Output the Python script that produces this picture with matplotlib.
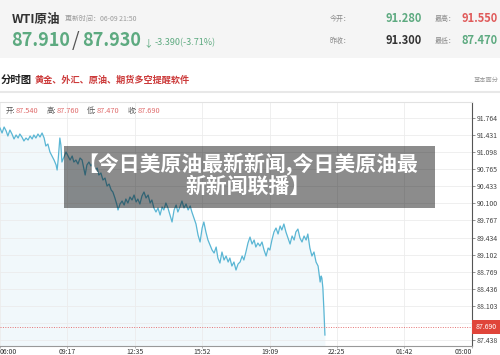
import matplotlib
matplotlib.use('Agg')
import matplotlib.pyplot as plt
from matplotlib.patches import Rectangle
from matplotlib.lines import Line2D

plt.rcParams['font.family'] = ['Noto Sans CJK SC', 'DejaVu Sans']

# ---- data ----
# minutes after 06:00
minutes = [
    0, 6, 12, 18, 23, 29, 35, 41, 47, 53,
    58, 64, 70, 76, 82, 88, 94, 99, 105, 111,
    117, 123, 129, 134, 140, 146, 152, 158, 164, 167,
    170, 175, 178, 181, 187, 193, 199, 205, 211, 216,
    222, 228, 234, 240, 246, 249, 254, 260, 266, 272,
    278, 284, 289, 295, 301, 307, 313, 319, 325, 330,
    336, 342, 345, 351, 357, 363, 368, 374, 380, 386,
    392, 398, 403, 409, 415, 421, 427, 433, 439, 444,
    450, 456, 462, 468, 474, 479, 485, 491, 497, 503,
    509, 515, 520, 526, 532, 538, 544, 550, 556, 561,
    567, 573, 579, 585, 591, 596, 602, 608, 614, 620,
    626, 632, 637, 643, 649, 655, 661, 667, 672, 678,
    684, 690, 696, 702, 708, 713, 719, 725, 731, 737,
    743, 748, 754, 760, 766, 772, 778, 784, 789, 795,
    801, 807, 813, 819, 824, 830, 836, 842, 848, 854,
    860, 865, 871, 877, 883, 889, 895, 900, 906, 912,
    918, 924, 930, 936, 939, 941, 944, 947, 950,
]
prices = [
    91.569, 91.472, 91.589, 91.511, 91.413, 91.530, 91.452, 91.355, 91.433, 91.374,
    91.452, 91.394, 91.316, 91.374, 91.335, 91.413, 91.355, 91.433, 91.374, 91.452,
    91.394, 91.472, 91.374, 91.218, 91.257, 91.101, 91.023, 90.945, 90.848, 90.750,
    90.945, 91.374, 91.238, 90.906, 91.004, 91.101, 91.023, 90.945, 91.023, 90.906,
    90.945, 90.867, 90.984, 90.945, 90.750, 90.653, 90.848, 90.906, 90.828, 90.887,
    90.750, 90.789, 90.653, 90.692, 90.555, 90.594, 90.438, 90.477, 90.361, 90.322,
    90.205, 90.068, 89.971, 90.088, 90.146, 90.068, 90.185, 90.107, 90.224, 90.166,
    90.263, 90.127, 90.185, 90.088, 90.244, 90.322, 90.205, 90.263, 90.107, 90.166,
    90.010, 89.932, 90.010, 89.873, 90.029, 89.971, 90.107, 90.010, 89.873, 89.737,
    89.971, 90.068, 89.932, 90.029, 90.146, 90.010, 90.088, 89.971, 90.049, 89.932,
    89.815, 89.698, 89.483, 89.347, 89.620, 89.737, 89.542, 89.386, 89.288, 89.191,
    89.132, 89.249, 89.035, 88.937, 89.152, 88.996, 89.074, 88.957, 89.035, 88.879,
    88.957, 88.801, 88.918, 88.957, 89.074, 88.996, 89.152, 89.327, 89.444, 89.308,
    89.386, 89.249, 89.327, 89.269, 89.347, 89.191, 89.074, 89.230, 89.191, 89.386,
    89.542, 89.620, 89.503, 89.659, 89.581, 89.698, 89.542, 89.425, 89.308, 89.464,
    89.386, 89.542, 89.600, 89.425, 89.347, 89.464, 89.386, 89.503, 89.230, 89.074,
    89.152, 88.957, 88.879, 88.567, 88.684, 88.645, 88.450, 88.021, 87.534,
]

y_ticks = [91.764, 91.431, 91.098, 90.765, 90.433, 90.100, 89.767,
           89.434, 89.102, 88.769, 88.436, 88.103, 87.771, 87.438]
x_ticks = [0, 197, 394, 591, 788, 985, 1182, 1379]
x_labels = ['06:00', '09:17', '12:35', '15:52', '19:09', '22:25', '01:42', '05:00']

bar_names = ['开:', '高:', '低:', '收:']
bar_values = [87.540, 87.760, 87.470, 87.690]
last_close = 87.690

quote_bid, quote_ask = 87.910, 87.930
change, change_pct = -3.390, -3.71
today_open, prev_close = 91.280, 91.300
day_high, day_low = 91.550, 87.470

title_lines = ['【今日美原油最新新闻,今日美原油最', '新新闻联播】']

GREEN = '#5daa80'
RED = '#e05a5a'
LINE = '#5ab6d4'

W, H = 500, 355


def fx(x):
    return x / W


def fy(y):
    return 1 - y / H


fig = plt.figure(figsize=(5, 3.55), dpi=100)
fig.patch.set_facecolor('white')

# quote header band
fig.add_artist(Rectangle((0, fy(58)), 1, 58 / H, transform=fig.transFigure,
                         facecolor='#f5f5f5', edgecolor='none', zorder=-1))
fig.text(fx(12), fy(19), 'WTI原油', fontsize=9, fontweight='bold', color='#333333', va='center')
fig.text(fx(65), fy(19), '更新时间：06-09 21:50', fontsize=5, color='#9a9a9a', va='center')
fig.text(fx(11), fy(41), f'{quote_bid:.3f}', fontsize=13, fontweight='bold', color=GREEN, va='center')
fig.text(fx(72), fy(41), '/', fontsize=14, color='#555555', va='center')
fig.text(fx(82), fy(41), f'{quote_ask:.3f}', fontsize=13, fontweight='bold', color=GREEN, va='center')
fig.text(fx(143), fy(43), '↓', fontsize=7, color=GREEN, va='center')
fig.text(fx(155), fy(43), f'{change:.3f}({change_pct:.2f}%)', fontsize=6.5, color=GREEN, va='center')

fig.text(fx(330), fy(19), '今开：', fontsize=5, color='#888888', va='center')
fig.text(fx(385), fy(18), f'{today_open:.3f}', fontsize=8, fontweight='bold', color=GREEN, va='center')
fig.text(fx(435), fy(19), '最高：', fontsize=5, color='#888888', va='center')
fig.text(fx(462), fy(18), f'{day_high:.3f}', fontsize=8, fontweight='bold', color=RED, va='center')
fig.text(fx(330), fy(41), '昨收：', fontsize=5, color='#888888', va='center')
fig.text(fx(385), fy(40), f'{prev_close:.3f}', fontsize=8, fontweight='bold', color='#333333', va='center')
fig.text(fx(435), fy(41), '最低：', fontsize=5, color='#888888', va='center')
fig.text(fx(462), fy(40), f'{day_low:.3f}', fontsize=8, fontweight='bold', color=GREEN, va='center')

# section title row
fig.text(fx(1), fy(80), '分时图', fontsize=7.5, fontweight='bold', color='#222222', va='center')
fig.text(fx(35), fy(80), '黄金、外汇、原油、期货多空提醒软件', fontsize=6.6,
         fontweight='bold', color='#cc3a3a', va='center')
fig.text(fx(474), fy(80), '基本面分', fontsize=4.5, color='#999999', va='center')
fig.add_artist(Line2D([0, 1], [fy(92), fy(92)], transform=fig.transFigure,
                      color='#e8e8e8', lw=1.5))

# ---- chart ----
ax = fig.add_axes([0, (H - 346) / H, 472 / W, 244 / H])
y_bottom, y_top = 87.320, 92.076
ax.set_xlim(0, 1380)
ax.set_ylim(y_bottom, y_top)

ax.fill_between(minutes, prices, y_bottom, color='#f1f8fb', lw=0, zorder=0.4)
ax.plot(minutes, prices, color=LINE, lw=0.9, zorder=2)
ax.axhline(last_close, color='#e57373', lw=0.7, ls=(0, (1, 1.5)), zorder=2)

ax.set_axisbelow(True)
ax.grid(True, color='#ececec', lw=0.6)

ax.yaxis.tick_right()
ax.set_yticks(y_ticks)
ax.set_yticklabels([f'{v:.3f}' for v in y_ticks])
ax.tick_params(axis='y', length=2.5, width=0.5, color='#666666',
               labelsize=5, pad=1, labelcolor='#444444')
ax.set_xticks(x_ticks)
ax.set_xticklabels(x_labels)
ax.tick_params(axis='x', length=1.5, width=0.5, color='#999999',
               labelsize=5, pad=0.2, labelcolor='#333333')
xl = ax.get_xticklabels()
xl[0].set_ha('left')
xl[-1].set_ha('right')

ax.spines['left'].set_visible(False)
ax.spines['top'].set_color('#e2e2e2')
ax.spines['top'].set_linewidth(0.8)
ax.spines['right'].set_color('#555555')
ax.spines['right'].set_linewidth(0.8)
ax.spines['bottom'].set_color('#999999')
ax.spines['bottom'].set_linewidth(0.8)

ax.text(1.008, last_close, f'{last_close:.3f}', transform=ax.get_yaxis_transform(),
        ha='left', va='center', fontsize=5, color='white', clip_on=False, zorder=5,
        bbox=dict(boxstyle='square,pad=0.5', fc='#e0453a', ec='none'))

# last-bar header inside the chart
label_x = [6, 47, 87, 128]
for name, val, lx in zip(bar_names, bar_values, label_x):
    fig.text(fx(lx), fy(111), name, fontsize=5.3, color='#555555', va='center')
    fig.text(fx(lx + 10), fy(111), f'{val:.3f}', fontsize=5.3, color='#e06c6c', va='center')

# headline overlay
fig.add_artist(Rectangle((fx(64), fy(208)), (435 - 64) / W, (208 - 146) / H,
                         transform=fig.transFigure, facecolor='black', alpha=0.45,
                         edgecolor='none', zorder=10))
fig.text(fx(248), fy(164), title_lines[0], fontsize=15, fontweight='bold',
         color='white', ha='center', va='center', zorder=11)
fig.text(fx(248), fy(186), title_lines[1], fontsize=15, fontweight='bold',
         color='white', ha='center', va='center', zorder=11)

fig.savefig('out.png', dpi=100)
